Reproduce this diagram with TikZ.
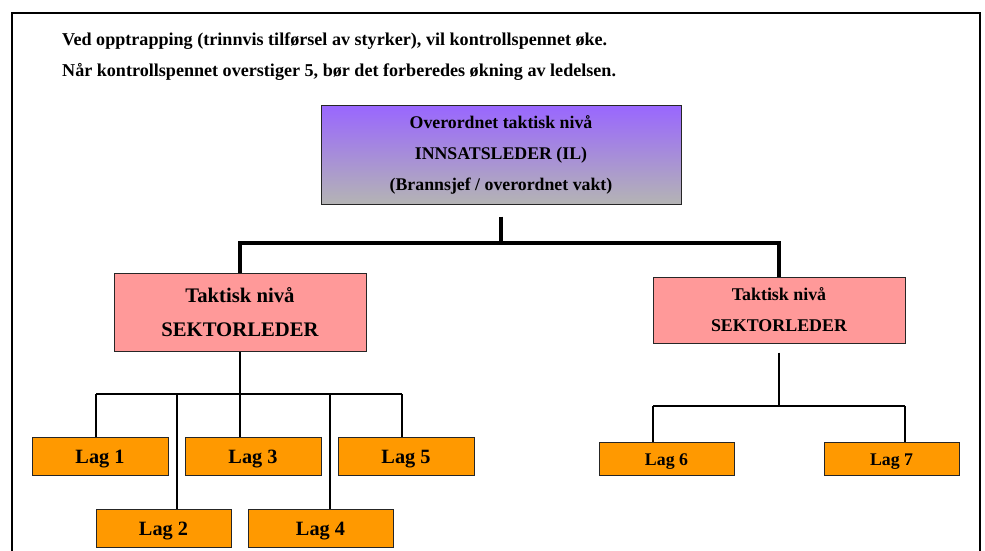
\documentclass[tikz,border=0pt]{standalone}
\usepackage{fontspec}
\setmainfont{Liberation Serif}
\definecolor{violettop}{RGB}{153,102,255}
\definecolor{graybot}{RGB}{180,180,180}
\definecolor{pinkbox}{RGB}{255,153,153}
\definecolor{orangebox}{RGB}{255,153,0}
\tikzset{
  box/.style={draw=black!85, line width=1pt, rectangle, inner sep=0pt, align=center},
  ilbox/.style={box, top color=violettop, bottom color=graybot, minimum width=360pt, minimum height=99pt, execute at begin node={\rule{0pt}{18.5pt}}, font=\bfseries\fontsize{17.8}{31}\selectfont},
  seklbox/.style={box, fill=pinkbox, minimum width=252pt, minimum height=78pt, execute at begin node={\rule{0pt}{18.5pt}}, font=\bfseries\fontsize{20.7}{34}\selectfont},
  sekrbox/.style={box, fill=pinkbox, minimum width=252pt, minimum height=66pt, execute at begin node={\rule{0pt}{16.3pt}}, font=\bfseries\fontsize{17.9}{31}\selectfont},
  lagbig/.style={box, fill=orangebox, minimum height=38pt, text height=19.5pt, text depth=4.4pt, font=\bfseries\fontsize{20.3}{24}\selectfont},
  lagsmall/.style={box, fill=orangebox, minimum height=33pt, minimum width=135pt, text height=16.9pt, text depth=3.9pt, font=\bfseries\fontsize{17.8}{22}\selectfont},
  headtxt/.style={anchor=base west, inner sep=0pt, font=\bfseries\fontsize{18.1}{22}\selectfont},
  thickline/.style={line width=4pt, line join=miter},
  thinline/.style={line width=1.3pt, line join=miter},
  frameline/.style={line width=1.8pt}
}
\begin{document}
\begin{tikzpicture}[x=1pt,y=-1pt]
\useasboundingbox (0,0) rectangle (985,551);
\draw[frameline] (12,551) -- (12,13) -- (980,13) -- (980,551);
\node[headtxt] (h1) at (62,46) {Ved opptrapping (trinnvis tilførsel av styrker), vil kontrollspennet øke.};
\node[headtxt] (h2) at (62,77) {Når kontrollspennet overstiger 5, bør det forberedes økning av ledelsen.};
\node[ilbox] (il) at (501,154.5) {Overordnet taktisk nivå\\INNSATSLEDER (IL)\\(Brannsjef / overordnet vakt)};
\node[seklbox] (sekL) at (240,312) {Taktisk nivå\\SEKTORLEDER};
\node[sekrbox] (sekR) at (779,310) {Taktisk nivå\\SEKTORLEDER};
\node[lagbig, minimum width=136pt] (lag1) at (100,456) {Lag 1};
\node[lagbig, minimum width=136pt] (lag3) at (253,456) {Lag 3};
\node[lagbig, minimum width=136pt] (lag5) at (406,456) {Lag 5};
\node[lagbig, minimum width=135pt] (lag2) at (163.5,528) {Lag 2};
\node[lagbig, minimum width=145pt] (lag4) at (320.5,528) {Lag 4};
\node[lagsmall] (lag6) at (666.5,458.5) {Lag 6};
\node[lagsmall] (lag7) at (891.5,458.5) {Lag 7};
% thick connectors
\coordinate (busTop) at (501,243);
\draw[thickline] ([yshift=-12pt]il.south) -- (il.south |- busTop);
\draw[thickline] (sekL.north) |- (busTop) -| (sekR.north);
% left sector
\coordinate (d1) at (96,394);
\coordinate (d2) at (177,394);
\coordinate (d3) at (240,394);
\coordinate (d4) at (330,394);
\coordinate (d5) at (402,394);
\draw[thinline] (sekL.south) -- (d3);
\draw[thinline] (d1) -- (d5);
\draw[thinline] (d1) -- (d1 |- lag1.north);
\draw[thinline] (d2) -- (d2 |- lag2.north);
\draw[thinline] (d3) -- (d3 |- lag3.north);
\draw[thinline] (d4) -- (d4 |- lag4.north);
\draw[thinline] (d5) -- (d5 |- lag5.north);
% right sector
\coordinate (e1) at (653,406);
\coordinate (e2) at (905,406);
\draw[thinline] ([yshift=-9pt]sekR.south) -- (sekR.south |- e1);
\draw[thinline] (e1) -- (e2);
\draw[thinline] (e1) -- (e1 |- lag6.north);
\draw[thinline] (e2) -- (e2 |- lag7.north);
\end{tikzpicture}
\end{document}
